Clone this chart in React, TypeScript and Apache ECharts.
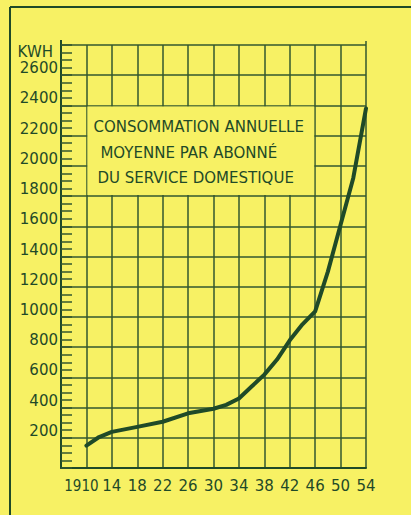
import React, { useEffect, useRef } from 'react';
import * as echarts from 'echarts';

// ---- data ----
const START_YEAR = 1906;
const END_YEAR = 1954;
const years = [1910, 1912, 1914, 1918, 1922, 1926, 1930, 1932, 1934, 1936, 1938, 1940, 1942, 1944, 1946, 1948, 1950, 1952, 1954];
const kwh = [148, 205, 239, 272, 306, 362, 392, 418, 460, 539, 618, 718, 845, 951, 1037, 1300, 1610, 1920, 2380];
const yMax = 2800;
const yStep = 200;
const xStep = 4;
const unitLabel = 'KWH';
const titleLines = ['CONSOMMATION ANNUELLE', 'MOYENNE PAR ABONNÉ', 'DU SERVICE DOMESTIQUE'];
// text box spans these axis values
const boxYears = [1910, 1946];
const boxValues = [1800, 2400];

const BG = '#f7f164';
const INK = '#1f4a28';
const GRID = '#33572f';
const FONT = 'DejaVu Sans';
const FONT_C = 'DejaVu Sans Condensed';

export default function App() {
  const ref = useRef<HTMLDivElement>(null);

  useEffect(() => {
    const el = ref.current;
    if (!el) return;
    const chart = echarts.init(el, null, { renderer: 'svg' });

    const option: any = {
      animation: false,
      backgroundColor: BG,
      grid: { left: 61, top: 45, right: 45, bottom: 47 },
      xAxis: {
        type: 'value',
        min: 0,
        max: END_YEAR - START_YEAR,
        interval: xStep,
        axisLine: { show: true, onZero: false, lineStyle: { color: INK, width: 2 } },
        axisTick: { show: false },
        splitLine: { show: true, lineStyle: { color: GRID, width: 1.5 } },
        axisLabel: {
          color: INK,
          fontFamily: FONT,
          fontSize: 15,
          margin: 9,
          formatter: (v: number) => {
            const y = Math.round(v + START_YEAR);
            if (y === START_YEAR) return '';
            if (y === 1910) return '{f|1910}';
            return '{n|' + String(y % 100) + '}';
          },
          rich: {
            n: { fontFamily: FONT, fontSize: 15, color: INK, lineHeight: 18 },
            f: { fontFamily: FONT_C, fontSize: 15, color: INK, lineHeight: 18, padding: [0, 10, 0, 0] },
          },
        },
      },
      yAxis: {
        type: 'value',
        min: 0,
        max: yMax,
        interval: yStep,
        axisLine: { show: true, onZero: false, lineStyle: { color: INK, width: 2 } },
        axisTick: { show: true, inside: true, length: 11, lineStyle: { color: GRID, width: 1.5 } },
        minorTick: { show: true, splitNumber: 4, length: 11, lineStyle: { color: GRID, width: 1.5 } },
        splitLine: { show: true, lineStyle: { color: GRID, width: 1.5 } },
        axisLabel: {
          color: INK,
          fontFamily: FONT,
          fontSize: 15,
          margin: 3,
          verticalAlign: 'bottom',
          lineHeight: 14,
          formatter: (v: number) => (v === 0 || v === yMax ? '' : String(v)),
        },
      },
      series: [
        {
          type: 'line',
          data: years.map((y, i) => [y - START_YEAR, kwh[i]]),
          symbol: 'none',
          smooth: false,
          z: 10,
          lineStyle: { color: INK, width: 4, cap: 'round', join: 'round' },
        },
      ],
    };
    chart.setOption(option);

    const p = (yr: number, v: number) => chart.convertToPixel({ gridIndex: 0 }, [yr - START_YEAR, v]) as number[];
    const tl = p(boxYears[0], boxValues[1]);
    const br = p(boxYears[1], boxValues[0]);
    const topL = p(START_YEAR, yMax);
    const topR = p(END_YEAR, yMax);

    const graphic: any[] = [
      // outer frame
      { type: 'line', shape: { x1: 10, y1: 7, x2: 411, y2: 7 }, style: { stroke: INK, lineWidth: 2 } },
      { type: 'line', shape: { x1: 10, y1: 7, x2: 10, y2: 515 }, style: { stroke: INK, lineWidth: 2 } },
      // small overshoot of vertical edges above top line
      { type: 'line', shape: { x1: topL[0], y1: topL[1] - 5, x2: topL[0], y2: topL[1] }, style: { stroke: INK, lineWidth: 2 } },
      { type: 'line', shape: { x1: topR[0], y1: topR[1] - 4, x2: topR[0], y2: topR[1] }, style: { stroke: GRID, lineWidth: 1.5 } },
      // text box masking grid
      {
        type: 'rect',
        shape: { x: tl[0] + 1, y: tl[1] + 1, width: br[0] - tl[0] - 2, height: br[1] - tl[1] - 2 },
        style: { fill: BG },
        z: 5,
      },
      {
        type: 'text',
        x: topL[0] - 8,
        y: topL[1] + 7,
        z: 6,
        style: { text: unitLabel, fill: INK, font: `15px "${FONT}"`, align: 'right', verticalAlign: 'middle' },
      },
    ];
    const lineOffsets = [7, 14, 11];
    const lineY = [127, 153, 178];
    titleLines.forEach((t, i) => {
      graphic.push({
        type: 'text',
        x: tl[0] + lineOffsets[i],
        y: lineY[i],
        z: 6,
        style: { text: t, fill: INK, font: `15px "${FONT}"`, align: 'left', verticalAlign: 'middle' },
      });
    });
    chart.setOption({ graphic });

    return () => chart.dispose();
  }, []);

  return <div ref={ref} style={{ position: 'fixed', left: 0, top: 0, width: 411, height: 515 }} />;
}
